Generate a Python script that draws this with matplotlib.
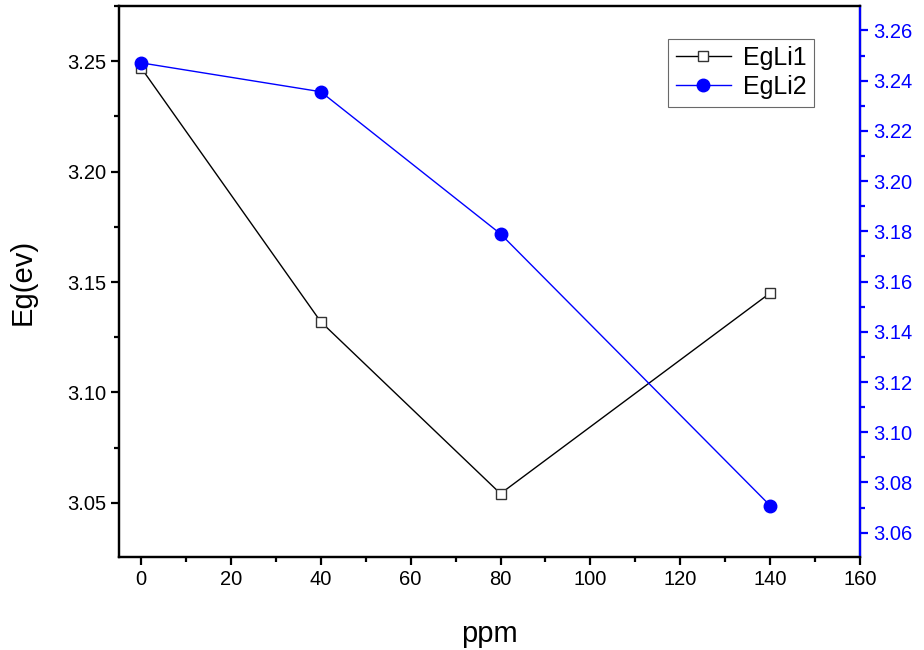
import matplotlib
matplotlib.use("Agg")
import matplotlib.pyplot as plt
from matplotlib.ticker import MultipleLocator

ppm = [0, 40, 80, 140]
eg_li1 = [3.247, 3.132, 3.0542, 3.145]
eg_li2 = [3.2471, 3.2356, 3.179, 3.0708]

plt.rcParams['font.family'] = ['Liberation Sans', 'DejaVu Sans']

fig = plt.figure(figsize=(9.24, 6.5), dpi=100)
ax = fig.add_axes([0.1293, 0.143, 0.8014, 0.848])
ax2 = ax.twinx()

l1, = ax.plot(ppm, eg_li1, color="black", lw=1.0, marker="s", markersize=7.5,
              markerfacecolor="white", markeredgecolor="#333333", markeredgewidth=1.0,
              label="EgLi1")
l2, = ax2.plot(ppm, eg_li2, color="blue", lw=1.0, marker="o", markersize=9,
               markerfacecolor="blue", markeredgecolor="blue", label="EgLi2")

ax.set_xlim(-4.8, 160)
ax.set_ylim(3.0255, 3.275)
ax2.set_ylim(3.0503, 3.2698)

ax.xaxis.set_major_locator(MultipleLocator(20))
ax.xaxis.set_minor_locator(MultipleLocator(10))
ax.yaxis.set_major_locator(MultipleLocator(0.05))
ax.yaxis.set_minor_locator(MultipleLocator(0.025))
ax2.yaxis.set_major_locator(MultipleLocator(0.02))
ax2.yaxis.set_minor_locator(MultipleLocator(0.01))
ax.yaxis.set_major_formatter(plt.FormatStrFormatter('%.2f'))
ax2.yaxis.set_major_formatter(plt.FormatStrFormatter('%.2f'))

for a in (ax, ax2):
    for s in a.spines.values():
        s.set_linewidth(1.6)
ax2.spines['right'].set_color("blue")

ax.tick_params(which="major", direction="out", length=6, width=1.6, labelsize=14.5)
ax.tick_params(which="minor", direction="out", length=3.5, width=1.6)
ax2.tick_params(which="major", direction="out", length=6, width=1.6, labelsize=14.5,
                colors="blue")
ax2.tick_params(which="minor", direction="out", length=3.5, width=1.6, colors="blue")

ax.set_xlabel("ppm", fontsize=21, labelpad=22)
ax.set_ylabel("Eg(ev)", fontsize=21, labelpad=22)

leg = ax.legend(handles=[l1, l2], loc="upper left", bbox_to_anchor=(0.724, 0.963),
                fontsize=18, frameon=True, fancybox=False, handlelength=2.2,
                borderpad=0.3, labelspacing=0.2, handletextpad=0.5)
leg.get_frame().set_edgecolor("#444444")
leg.get_frame().set_linewidth(0.8)

fig.savefig("out.png", dpi=100)
